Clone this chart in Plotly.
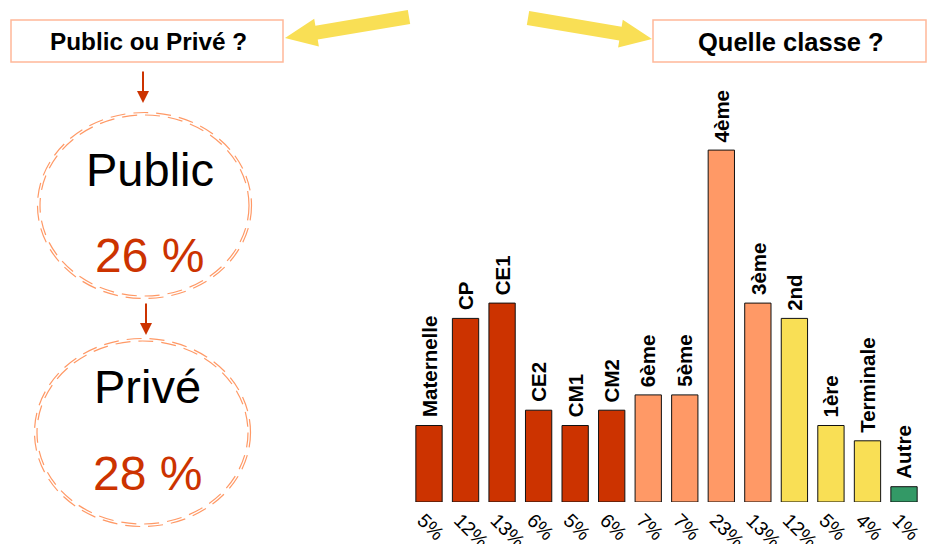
import plotly.graph_objects as go

# ---- data ----
classes = ["Maternelle", "CP", "CE1", "CE2", "CM1", "CM2", "6ème", "5ème",
           "4ème", "3ème", "2nd", "1ère", "Terminale", "Autre"]
shares = [5, 12, 13, 6, 5, 6, 7, 7, 23, 13, 12, 5, 4, 1]
levels = ["primaire"] * 6 + ["collège"] * 4 + ["lycée"] * 3 + ["autre"]
sectors = ["Public", "Privé"]
sector_shares = [26, 28]

level_colors = {"primaire": "#CC3300", "collège": "#FF9966",
                "lycée": "#F9DF55", "autre": "#339966"}

W, H = 931, 544
FONT = "Liberation Sans, Arial, Helvetica, sans-serif"


def px(x):
    return x / W


def py(y):
    return 1 - y / H


def arrow_path(tail, tip, shaft_w, head_w, head_len):
    """Filled block-arrow polygon (pixel coords in, paper path out)."""
    (x0, y0), (x1, y1) = tail, tip
    dx, dy = x1 - x0, y1 - y0
    L = (dx * dx + dy * dy) ** 0.5
    ux, uy = dx / L, dy / L
    nx, ny = -uy, ux
    bx, by = x1 - ux * head_len, y1 - uy * head_len
    pts = [
        (x0 + nx * shaft_w / 2, y0 + ny * shaft_w / 2),
        (bx + nx * shaft_w / 2, by + ny * shaft_w / 2),
        (bx + nx * head_w / 2, by + ny * head_w / 2),
        (x1, y1),
        (bx - nx * head_w / 2, by - ny * head_w / 2),
        (bx - nx * shaft_w / 2, by - ny * shaft_w / 2),
        (x0 - nx * shaft_w / 2, y0 - ny * shaft_w / 2),
    ]
    return "M " + " L ".join(f"{px(a):.5f},{py(b):.5f}" for a, b in pts) + " Z"


fig = go.Figure()

fig.add_trace(go.Bar(
    x=list(range(len(classes))),
    y=shares,
    marker=dict(color=[level_colors[l] for l in levels],
                line=dict(color="#111111", width=1)),
    width=0.72,
    hoverinfo="skip",
))

shapes = []
annotations = []

# class names standing above each bar
for i, (name, v) in enumerate(zip(classes, shares)):
    annotations.append(dict(
        x=i, y=v, xref="x", yref="y", text=f"<b>{name}</b>", showarrow=False,
        textangle=-90, xanchor="center", yanchor="bottom", yshift=6,
        font=dict(family=FONT, size=20.5, color="black")))

# title boxes
for (x0, y0, x1, y1), label, fs in [((11, 20, 283, 62), "Public ou Privé ?", 24.3),
                                    ((653, 20, 926, 62), "Quelle classe ?", 25.5)]:
    shapes.append(dict(type="rect", xref="paper", yref="paper",
                       x0=px(x0), x1=px(x1), y0=py(y1), y1=py(y0),
                       line=dict(color="#FFB899", width=1.5), fillcolor="white"))
    annotations.append(dict(x=px((x0 + x1) / 2 + 1), y=py((y0 + y1) / 2 + 1),
                            xref="paper", yref="paper", text=f"<b>{label}</b>",
                            showarrow=False, xanchor="center", yanchor="middle",
                            font=dict(family=FONT, size=fs, color="black")))

# yellow pointer arrows
for tail, tip in [((409, 17), (285, 38)), ((528, 18), (652, 39))]:
    shapes.append(dict(type="path", xref="paper", yref="paper",
                       path=arrow_path(tail, tip, 14, 28, 32),
                       fillcolor="#F9DF55", line=dict(width=0)))

# dashed double ellipses with sector shares
ellipses = [(144.5, 205.5, 107, 93), (142.5, 432.5, 108, 94)]
text_y = [(169, 255), (386, 473)]
for (cx, cy, rx, ry), (ty1, ty2), name, val in zip(ellipses, text_y, sectors, sector_shares):
    for d in (0, 2.5):
        shapes.append(dict(type="circle", xref="paper", yref="paper",
                           x0=px(cx - rx + d), x1=px(cx + rx - d),
                           y0=py(cy + ry - d), y1=py(cy - ry + d),
                           line=dict(color="#FF9966", width=1.2, dash="15px,8px")))
    annotations.append(dict(x=px(cx + 5), y=py(ty1), xref="paper", yref="paper",
                            text=name, showarrow=False, xanchor="center",
                            yanchor="middle",
                            font=dict(family=FONT, size=47, color="black")))
    annotations.append(dict(x=px(cx + 5), y=py(ty2), xref="paper", yref="paper",
                            text=f"{val} %", showarrow=False, xanchor="center",
                            yanchor="middle",
                            font=dict(family=FONT, size=48, color="#CC3300")))

# small red connector arrows
for x, y0, y1 in [(143, 70, 103), (146, 302, 335)]:
    annotations.append(dict(x=px(x), y=py(y1), ax=0, ay=-(y1 - y0),
                            xref="paper", yref="paper", axref="pixel", ayref="pixel",
                            text="", showarrow=True, arrowhead=2, arrowsize=1.2,
                            arrowwidth=2, arrowcolor="#CC3300"))

n = len(classes)
pitch = 36.54
x_left = 429 - pitch / 2
x_right = x_left + pitch * n
base_y = 502
unit_px = 15.3
y_max = 25

fig.update_layout(
    width=W, height=H,
    margin=dict(l=0, r=0, t=0, b=0, autoexpand=False),
    paper_bgcolor="white", plot_bgcolor="white",
    showlegend=False,
    shapes=shapes,
    annotations=annotations,
    xaxis=dict(domain=[px(x_left), px(x_right)], range=[-0.5, n - 0.5],
               tickvals=list(range(n)), ticktext=[f"{v}%" for v in shares],
               tickangle=45, tickfont=dict(family=FONT, size=19.5, color="black"),
               ticklabelshift=-6, ticklabelstandoff=2,
               showgrid=False, zeroline=False, showline=False, ticks="",
               automargin=False, fixedrange=True),
    yaxis=dict(domain=[py(base_y), py(base_y - unit_px * y_max)],
               range=[0, y_max], visible=False, automargin=False, fixedrange=True),
)

fig.write_html("out.html")
